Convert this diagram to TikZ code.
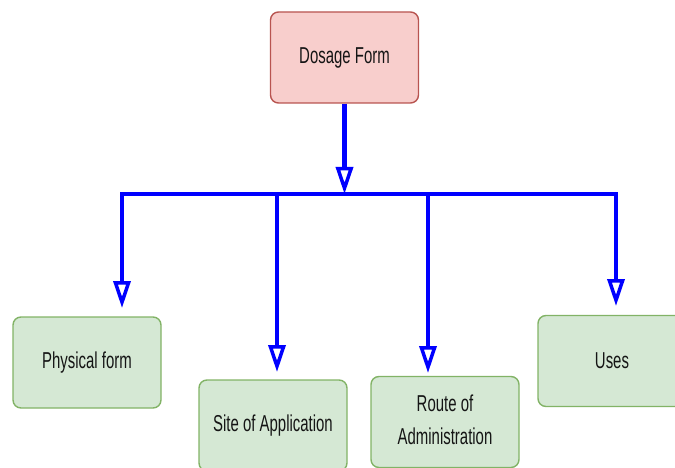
\documentclass[tikz,border=0pt]{standalone}
\usepackage{fontspec}
\setmainfont{Liberation Sans}
\usepackage{graphicx}
\usetikzlibrary{arrows.meta}

\definecolor{rootfill}{HTML}{F8CECC}
\definecolor{rootline}{HTML}{B85450}
\definecolor{leaffill}{HTML}{D5E8D4}
\definecolor{leafline}{HTML}{82B366}
\definecolor{wire}{RGB}{0,0,255}
\definecolor{ink}{HTML}{151515}

\newcommand{\narrow}[1]{\scalebox{0.65}[1]{#1}}

\tikzset{
  box/.style={draw, rounded corners=8pt, line width=1.4pt,
    minimum width=148pt, minimum height=91pt, inner sep=0pt,
    font=\fontsize{23}{31}\selectfont, text=ink},
  rootbox/.style={box, fill=rootfill, draw=rootline},
  leafbox/.style={box, fill=leaffill, draw=leafline},
  wireline/.style={draw=wire, line width=4.5pt},
  feed/.style={wireline, -{Triangle[open, length=27pt, width=17pt, line width=3.5pt]}},
}

\begin{document}
\begin{tikzpicture}[x=1pt, y=-1pt]
  \useasboundingbox (0,0) rectangle (675,468);

  % boxes
  \node[rootbox] (root) at (344.5,57.5) {\narrow{Dosage Form}};
  \node[leafbox] (phys) at (87,362.5) {\narrow{Physical form}};
  \node[leafbox] (site) at (273,425.5) {\narrow{Site of Application}};
  \node[leafbox] (route) at (445,422) {\narrow{\begin{tabular}{@{}c@{}}Route of\\[2pt]Administration\end{tabular}}};
  \node[leafbox] (uses) at (612,361) {\narrow{Uses}};

  % bus junctions and arrow ends
  \coordinate (busC) at (344.5,194);
  \coordinate (busL) at (122,194);
  \coordinate (busS) at (277,194);
  \coordinate (busR) at (428,194);
  \coordinate (busU) at (616,194);
  \coordinate (endP) at (122,308);
  \coordinate (endS) at (277,372);
  \coordinate (endR) at (428,373);
  \coordinate (endU) at (616,306);

  % connectors
  \draw[feed] (root.south) -- (busC);
  \draw[wireline, line cap=rect] (busL) -- (busU);
  \draw[feed] (busL) -- (endP);
  \draw[feed] (busS) -- (endS);
  \draw[feed] (busR) -- (endR);
  \draw[feed] (busU) -- (endU);
\end{tikzpicture}
\end{document}
